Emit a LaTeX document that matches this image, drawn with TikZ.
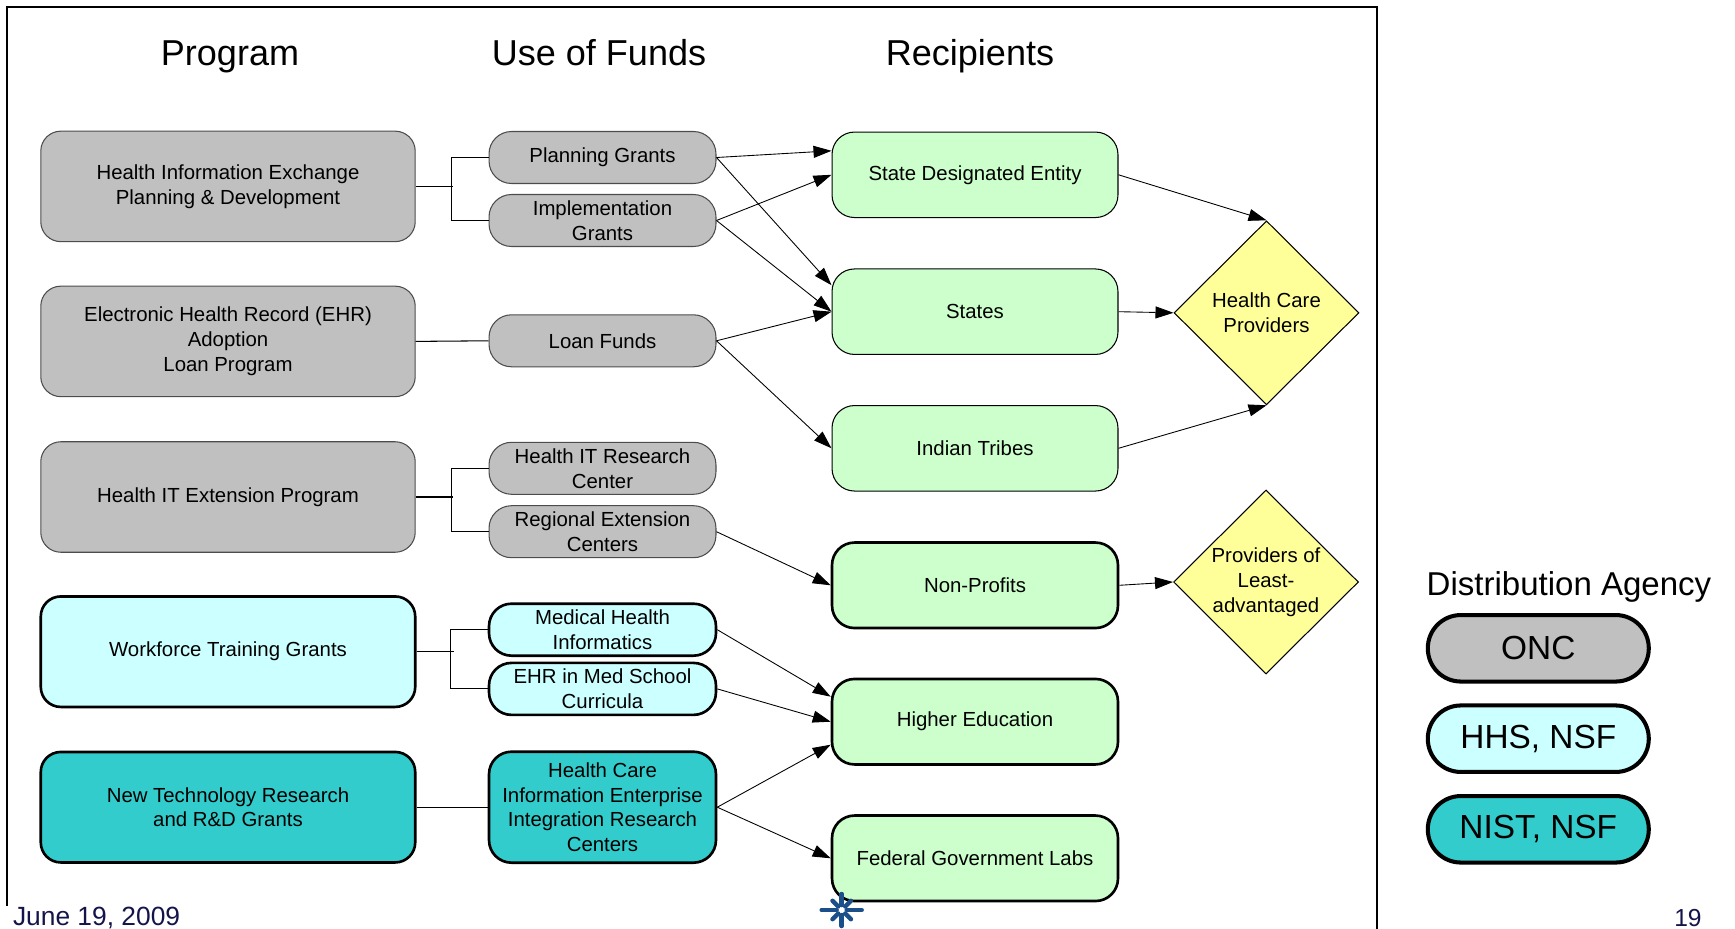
\documentclass[tikz,border=0pt]{standalone}
\usepackage{fontspec}
\setmainfont{Liberation Sans}
\usetikzlibrary{arrows.meta,shapes.geometric}

\definecolor{boxgray}{RGB}{192,192,192}
\definecolor{palecyan}{RGB}{204,255,255}
\definecolor{tealfill}{RGB}{51,204,204}
\definecolor{palegreen}{RGB}{204,255,204}
\definecolor{paleyellow}{RGB}{255,255,153}
\definecolor{navy}{RGB}{20,20,75}
\definecolor{logoblue}{RGB}{27,79,138}

\begin{document}
\begin{tikzpicture}[x=0.02cm, y=-0.02cm,
  font=\fontsize{11.6}{14.2}\selectfont,
  prog/.style={rectangle, rounded corners=0.4cm, minimum width=7.49cm, minimum height=2.21cm, align=center, inner sep=0pt},
  use/.style={rectangle, rounded corners=0.45cm, minimum width=4.54cm, minimum height=1.04cm, align=center, inner sep=0pt},
  recip/.style={rectangle, rounded corners=0.45cm, minimum width=5.72cm, minimum height=1.71cm, align=center, draw=black, fill=palegreen},
  oncfill/.style={fill=boxgray, draw=black!70, line width=0.6pt},
  hhsfill/.style={fill=palecyan, draw=black, line width=1.5pt},
  nistfill/.style={fill=tealfill, draw=black, line width=1.5pt},
  thinborder/.style={line width=0.6pt},
  thickborder/.style={line width=1.5pt},
  goal/.style={diamond, draw=black, fill=paleyellow, line width=0.6pt, minimum width=3.7cm, minimum height=3.68cm, inner sep=0pt, align=center},
  flow/.style={-{Triangle[length=0.36cm,width=0.24cm]}, line width=0.5pt},
  agency/.style={rectangle, rounded corners=0.66cm, minimum width=4.42cm, minimum height=1.33cm, line width=2.3pt, draw=black, font=\fontsize{19}{22}\selectfont},
  heading/.style={anchor=base, font=\fontsize{20.5}{24}\selectfont}
]
\useasboundingbox (0,0) rectangle (1735,929);

% frame
\draw[line width=1.6pt] (7,906) -- (7,7) -- (1377,7) -- (1377,929);

% column headings
\node[heading] (hprog) at (230,66) {Program};
\node[heading] (huse) at (599,66) {Use of Funds};
\node[heading] (hrecip) at (970,66) {Recipients};

% programs
\node[prog, oncfill] (hie) at (228,186.4) {Health Information Exchange\\Planning \& Development};
\node[prog, oncfill] (ehr) at (228,341.4) {Electronic Health Record (EHR)\\Adoption\\Loan Program};
\node[prog, oncfill] (hite) at (228,497) {Health IT Extension Program};
\node[prog, hhsfill] (wtg) at (228,651.7) {Workforce Training Grants};
\node[prog, nistfill] (ntr) at (228,807.2) {New Technology Research\\and R\&D Grants};

% use of funds
\node[use, oncfill] (pg) at (602.5,157.5) {Planning Grants};
\node[use, oncfill] (ig) at (602.5,220.5) {Implementation\\Grants};
\node[use, oncfill] (lf) at (602.5,340.8) {Loan Funds};
\node[use, oncfill] (hitrc) at (602.5,468.3) {Health IT Research\\Center};
\node[use, oncfill] (rec) at (602.5,531.7) {Regional Extension\\Centers};
\node[use, hhsfill] (mhi) at (602.5,629.7) {Medical Health\\Informatics};
\node[use, hhsfill] (ehrmsc) at (602.5,688.9) {EHR in Med School\\Curricula};
\node[use, nistfill, minimum height=2.22cm] (hcie) at (602.5,807.2) {Health Care\\Information Enterprise\\Integration Research\\Centers};

% recipients
\node[recip, thinborder] (sde) at (975,174.8) {State Designated Entity};
\node[recip, thinborder] (states) at (975,311.7) {States};
\node[recip, thinborder] (tribes) at (975,448.3) {Indian Tribes};
\node[recip, thickborder] (nonprof) at (975,585.3) {Non-Profits};
\node[recip, thickborder] (higher) at (975,721.7) {Higher Education};
\node[recip, thickborder] (fedlabs) at (975,858.3) {Federal Government Labs};

\node[goal] (hcp) at (1266.5,312.8) {Health Care\\Providers};
\node[goal] (pla) at (1266,582) {Providers of\\Least-\\advantaged};

% program to use of funds
\draw[thinborder] (hie.east) -- +(37,0);
\draw[thinborder] (pg.west) -- +(-37,0) |- (ig.west);
\draw[thinborder] (ehr.east) -- (lf.west);
\draw[thinborder] (hite.east) -- +(37,0);
\draw[thinborder] (hitrc.west) -- +(-37,0) |- (rec.west);
\draw[thinborder] (wtg.east) -- +(37,0);
\draw[thinborder] (mhi.west) -- +(-37,0) |- (ehrmsc.west);
\draw[thinborder] (ntr.east) -- (hcie.west);

% funds to recipients
\draw[flow] (pg.east) -- ([yshift=0.48cm]sde.west);
\draw[flow] (ig.east) -- (sde.west);
\draw[flow] (pg.east) -- ([yshift=0.53cm]states.west);
\draw[flow] (ig.east) -- (states.west);
\draw[flow] (lf.east) -- (states.west);
\draw[flow] (lf.east) -- (tribes.west);
\draw[flow] (rec.east) -- (nonprof.west);
\draw[flow] (mhi.east) -- ([yshift=0.5cm]higher.west);
\draw[flow] (ehrmsc.east) -- (higher.west);
\draw[flow] (hcie.east) -- ([yshift=-0.46cm]higher.west);
\draw[flow] (hcie.east) -- (fedlabs.west);
\draw[flow] (sde.east) -- (hcp.north);
\draw[flow] (states.east) -- (hcp.west);
\draw[flow] (tribes.east) -- (hcp.south);
\draw[flow] (nonprof.east) -- (pla.west);

% legend
\node[font=\fontsize{18.8}{22}\selectfont, anchor=base] (legtitle) at (1569,595) {Distribution Agency};
\node[agency, fill=boxgray] (agonc) at (1538.3,648.3) {ONC};
\node[agency, fill=palecyan] (aghhs) at (1538.3,738.7) {HHS, NSF};
\node[agency, fill=tealfill] (agnist) at (1538.3,829.3) {NIST, NSF};

% footer
\node[anchor=base west, inner sep=0pt, text=navy, font=\fontsize{15}{18}\selectfont] (date) at (12.7,925) {June 19, 2009};
\node[anchor=base east, inner sep=0pt, text=navy, font=\fontsize{14}{17}\selectfont] (page) at (1702,926) {19};
\coordinate (logo) at (841.7,910);
\foreach \a/\r in {0/20,180/20,90/16,270/16,45/13,135/13,225/13,315/13}
  \draw[logoblue, line width=0.09cm, line cap=round] (logo) ++(\a:5) -- ++(\a:\r-5);
\end{tikzpicture}
\end{document}
